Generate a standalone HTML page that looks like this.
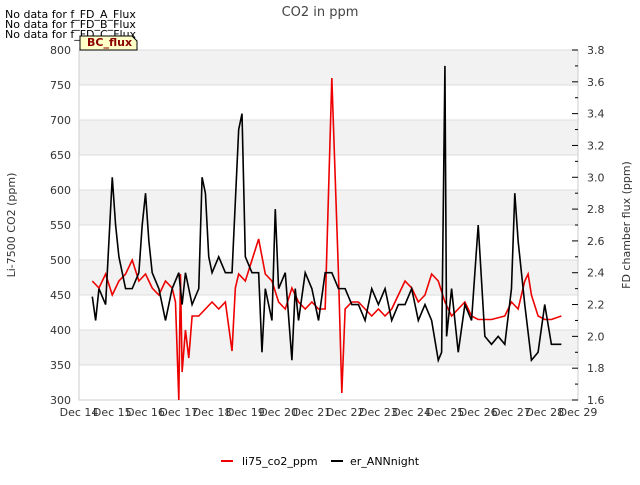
<!DOCTYPE html>
<html><head><meta charset="utf-8"><style>
body{margin:0;background:#fff;font-family:"Liberation Sans","DejaVu Sans",sans-serif}
</style></head><body>
<svg id="c" width="640" height="480" xmlns="http://www.w3.org/2000/svg" font-family="DejaVu Sans, Liberation Sans, sans-serif">
<text x="320" y="16" text-anchor="middle" font-size="13" fill="#444">CO2 in ppm</text>
<text x="5" y="18" font-size="11">No data for f_FD_A_Flux</text>
<text x="5" y="28" font-size="11">No data for f_FD_B_Flux</text>
<text x="5" y="38" font-size="11">No data for f_FD_C_Flux</text>
<text x="15" y="225" font-size="11" fill="#333" transform="rotate(-90 15 225)" text-anchor="middle">Li-7500 CO2 (ppm)</text>
<text x="630" y="225" font-size="11" fill="#333" transform="rotate(-90 630 225)" text-anchor="middle">FD chamber flux (ppm)</text>
<g id="plot"></g>
<g><path d="M80,50 L80,36 L132,36 L137,41 L137,50 Z" fill="#ffffc8" stroke="#000"/><text x="87" y="46" font-size="11" font-weight="bold" fill="#8b0000">BC_flux</text></g>
<g>
<line x1="221" y1="461" x2="233" y2="461" stroke="#e00" stroke-width="2"/>
<text x="242" y="465" font-size="11">li75_co2_ppm</text>
<line x1="331" y1="461" x2="343" y2="461" stroke="#000" stroke-width="2"/>
<text x="350" y="465" font-size="11">er_ANNnight</text>
</g>
</svg>
<script>
const xTickLabels=["Dec 14","Dec 15","Dec 16","Dec 17","Dec 18","Dec 19","Dec 20","Dec 21","Dec 22","Dec 23","Dec 24","Dec 25","Dec 26","Dec 27","Dec 28","Dec 29"];
const yLeftTicks=[300,350,400,450,500,550,600,650,700,750,800];
const yRightTicks=[1.6,1.8,2.0,2.2,2.4,2.6,2.8,3.0,3.2,3.4,3.6,3.8];
const co2Days=[14.4,14.6,14.8,15.0,15.2,15.4,15.6,15.8,16.0,16.2,16.4,16.6,16.8,16.9,17.0,17.05,17.1,17.2,17.3,17.4,17.6,17.8,18.0,18.2,18.4,18.6,18.7,18.8,19.0,19.2,19.4,19.6,19.8,20.0,20.2,20.4,20.6,20.8,21.0,21.2,21.4,21.6,21.8,21.9,22.0,22.2,22.4,22.6,22.8,23.0,23.2,23.4,23.6,23.8,24.0,24.2,24.4,24.6,24.8,25.0,25.2,25.4,25.6,25.8,26.0,26.4,26.8,27.0,27.2,27.4,27.5,27.6,27.8,28.0,28.2,28.5];
const co2Vals=[470,460,480,450,470,480,500,470,480,460,450,470,460,440,300,480,340,400,360,420,420,430,440,430,440,370,460,480,470,500,530,480,470,440,430,460,440,430,440,430,430,760,480,310,430,440,440,430,420,430,420,430,450,470,460,440,450,480,470,440,420,430,440,420,415,415,420,440,430,470,480,450,420,415,415,420];
const annDays=[14.4,14.5,14.6,14.8,14.9,15.0,15.1,15.2,15.4,15.6,15.8,15.9,16.0,16.1,16.2,16.4,16.6,16.8,17.0,17.1,17.2,17.4,17.6,17.7,17.8,17.9,18.0,18.2,18.4,18.6,18.8,18.9,19.0,19.2,19.4,19.5,19.6,19.8,19.9,20.0,20.2,20.4,20.5,20.6,20.8,21.0,21.2,21.4,21.6,21.8,22.0,22.2,22.4,22.6,22.8,23.0,23.2,23.4,23.6,23.8,24.0,24.2,24.4,24.6,24.8,24.9,25.0,25.05,25.2,25.4,25.6,25.8,26.0,26.2,26.4,26.6,26.8,27.0,27.1,27.2,27.4,27.6,27.8,28.0,28.2,28.4,28.5];
const annVals=[2.25,2.1,2.3,2.2,2.6,3.0,2.7,2.5,2.3,2.3,2.4,2.7,2.9,2.6,2.4,2.3,2.1,2.3,2.4,2.2,2.4,2.2,2.3,3.0,2.9,2.5,2.4,2.5,2.4,2.4,3.3,3.4,2.5,2.4,2.4,1.9,2.3,2.1,2.8,2.3,2.4,1.85,2.3,2.1,2.4,2.3,2.1,2.4,2.4,2.3,2.3,2.2,2.2,2.1,2.3,2.2,2.3,2.1,2.2,2.2,2.3,2.1,2.2,2.1,1.85,1.9,3.7,2.0,2.3,1.9,2.2,2.1,2.7,2.0,1.95,2.0,1.95,2.3,2.9,2.6,2.2,1.85,1.9,2.2,1.95,1.95,1.95];
const L=79,R=578,T=50,B=400;
const x=d=>L+(d-14)/15*(R-L);
const yl=v=>B-(v-300)/500*(B-T);
const yr=v=>B-(v-1.6)/2.2*(B-T);
const NS="http://www.w3.org/2000/svg";
const g=document.getElementById('plot');
function mk(t,a){const e=document.createElementNS(NS,t);for(const k in a)e.setAttribute(k,a[k]);g.appendChild(e);return e;}
for(let i=0;i<yLeftTicks.length-1;i++){
 if(i%2==1){const r=mk('rect',{x:L,y:yl(yLeftTicks[i+1]),width:R-L,height:yl(yLeftTicks[i])-yl(yLeftTicks[i+1]),fill:'#f2f2f2'});
 
 }
}
yLeftTicks.forEach(v=>{const l=mk('line',{x1:L,x2:R,y1:yl(v),y2:yl(v),stroke:'#ddd'});
 
 
 const t=mk('text',{x:L-8,y:yl(v)+4,'text-anchor':'end','font-size':11,fill:'#333'});t.textContent=v;
 
 });
const ax=mk('path',{d:`M${L},${T}V${B}H${R}V${T}`,fill:'none',stroke:'#ccc'});


for(let v=1.6;v<=3.81;v+=0.1){const big=Math.round(v*10)%2==0;
 const tk=mk('line',{x1:R-(big?6:3),x2:R,y1:yr(v),y2:yr(v),stroke:'#000'});
 
 }
yRightTicks.forEach(v=>{const t=mk('text',{x:R+9,y:yr(v)+4,'font-size':11,fill:'#333'});t.textContent=v.toFixed(1);
 
 });
xTickLabels.forEach((s,i)=>{const t=mk('text',{x:x(14+i),y:416,'text-anchor':'middle','font-size':11,fill:'#333'});t.textContent=s;
 
 });
const p1=mk('polyline',{points:co2Days.map((d,i)=>x(d)+','+yl(co2Vals[i])).join(' '),fill:'none',stroke:'#e00','stroke-width':1.6});


const p2=mk('polyline',{points:annDays.map((d,i)=>x(d)+','+yr(annVals[i])).join(' '),fill:'none',stroke:'#000','stroke-width':1.6});


</script>
</body></html>
